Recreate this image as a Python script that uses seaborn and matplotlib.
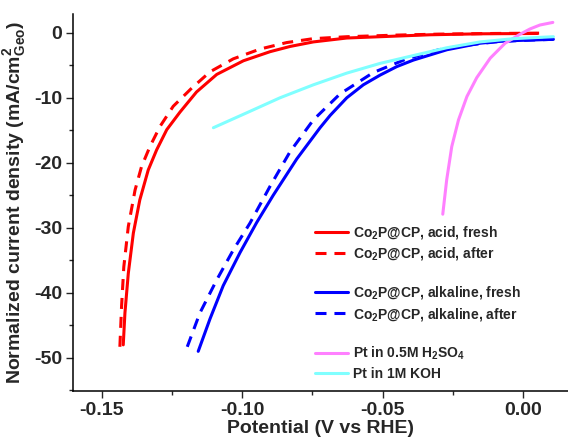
import numpy as np
import pandas as pd
import seaborn as sns
import matplotlib.pyplot as plt

# values (V vs RHE, mA/cm2)
acid_fresh_x = [-0.1424, -0.1418, -0.1406, -0.1388, -0.1365, -0.1335, -0.1305, -0.1269, -0.1222, -0.1163,
                -0.1091, -0.0996, -0.0901, -0.0830, -0.0747, -0.0628, -0.0450, -0.0331, -0.0150, 0.0050]
acid_fresh_y = [-48.0, -43.1, -37.0, -30.8, -25.7, -21.1, -18.0, -14.9, -12.2, -9.1,
                -6.4, -4.3, -2.9, -2.1, -1.4, -0.8, -0.5, -0.3, -0.15, -0.1]

acid_after_x = [-0.1436, -0.1430, -0.1422, -0.1406, -0.1382, -0.1359, -0.1329, -0.1293, -0.1246, -0.1180,
                -0.1115, -0.1032, -0.0937, -0.0842, -0.0748, -0.0628, -0.0450, -0.0300, -0.0100, 0.0065]
acid_after_y = [-48.3, -42.1, -36.0, -29.8, -24.2, -20.6, -17.5, -14.4, -11.3, -8.5,
                -6.0, -4.0, -2.5, -1.5, -0.9, -0.6, -0.35, -0.2, -0.1, -0.05]

alk_fresh_x = [-0.1157, -0.1115, -0.1068, -0.1008, -0.0949, -0.0890, -0.0830, -0.0806, -0.0723, -0.0687, -0.0628,
               -0.0569, -0.0509, -0.0450, -0.0391, -0.0331, -0.0271, -0.0212, -0.0153, -0.0093, -0.0034, 0.0108]
alk_fresh_y = [-49.0, -44.0, -38.9, -33.8, -29.2, -25.0, -21.0, -19.4, -14.6, -12.7, -10.0,
               -8.0, -6.5, -5.2, -4.2, -3.4, -2.6, -2.1, -1.6, -1.35, -1.2, -1.0]

alk_after_x = [-0.1196, -0.1151, -0.1091, -0.1032, -0.0973, -0.0901, -0.0830, -0.0747,
               -0.0652, -0.0533, -0.0414, -0.0300, -0.0200, -0.0100, 0.0000, 0.0108]
alk_after_y = [-48.3, -43.1, -38.0, -33.4, -29.3, -23.6, -18.3, -13.4,
               -9.4, -6.1, -4.0, -2.6, -1.9, -1.4, -1.15, -1.0]

pt_acid_x = [-0.0286, -0.0272, -0.0254, -0.0230, -0.0200, -0.0165, -0.0117, -0.0064, -0.0010,
             0.0025, 0.0060, 0.0106]
pt_acid_y = [-27.9, -22.6, -17.5, -13.4, -9.8, -6.9, -3.9, -1.6, -0.2, 0.6, 1.2, 1.6]

pt_koh_x = [-0.1103, -0.0984, -0.0866, -0.0747, -0.0628, -0.0509, -0.0391, -0.0272,
            -0.0153, -0.0034, 0.0108]
pt_koh_y = [-14.6, -12.3, -10.0, -8.0, -6.2, -4.7, -3.5, -2.3, -1.4, -0.9, -0.6]

x_ticks = [-0.15, -0.10, -0.05, 0.00]
y_ticks = [0, -10, -20, -30, -40, -50]

sns.set_style("ticks")
plt.rcParams['font.family'] = ['Liberation Sans', 'DejaVu Sans']
plt.rcParams['font.weight'] = 'bold'
plt.rcParams['axes.labelweight'] = 'bold'
plt.rcParams['axes.unicode_minus'] = False
plt.rcParams['mathtext.fontset'] = 'custom'
plt.rcParams['mathtext.rm'] = 'Liberation Sans:bold'
plt.rcParams['mathtext.it'] = 'Liberation Sans:bold'
plt.rcParams['mathtext.bf'] = 'Liberation Sans:bold'
plt.rcParams['mathtext.default'] = 'rm'

fig = plt.figure(figsize=(5.68, 4.42), dpi=100)
ax = fig.add_axes([0.1285, 0.1154, 0.8715, 0.8530])

series = [
    (acid_fresh_x, acid_fresh_y, '#ff0000', '-', r'Co$_2$P@CP, acid, fresh'),
    (acid_after_x, acid_after_y, '#ff0000', '--', r'Co$_2$P@CP, acid, after'),
    (alk_fresh_x, alk_fresh_y, '#0000ff', '-', r'Co$_2$P@CP, alkaline, fresh'),
    (alk_after_x, alk_after_y, '#0000ff', '--', r'Co$_2$P@CP, alkaline, after'),
    (pt_acid_x, pt_acid_y, '#ff80ff', '-', r'Pt in 0.5M H$_2$SO$_4$'),
    (pt_koh_x, pt_koh_y, '#80ffff', '-', 'Pt in 1M KOH'),
]

handles = []
for xs, ys, col, ls, lab in series:
    df = pd.DataFrame({'x': xs, 'y': ys})
    sns.lineplot(data=df, x='x', y='y', sort=False, estimator=None, color=col,
                 linewidth=2.2, ax=ax)
    line = ax.lines[-1]
    if ls == '--':
        line.set_dashes((3.6, 2.6))
    handles.append(line)

ax.set_xticks(x_ticks)
ax.set_xticklabels([f'{t:.2f}' for t in x_ticks])
ax.set_yticks(y_ticks)
ax.set_xticks([-0.125, -0.075, -0.025], minor=True)
ax.set_yticks([-55, -45, -35, -25, -15, -5], minor=True)
ax.set_xlim(-0.1603, 0.016)
ax.set_ylim(-55.1, 2.9)
ax.tick_params(axis='both', which='major', length=5, width=1, labelsize=14, direction='out', pad=3)
ax.tick_params(axis='both', which='minor', length=3, width=1, direction='out')
for lbl in ax.get_xticklabels() + ax.get_yticklabels():
    lbl.set_fontweight('bold')

sns.despine(ax=ax)
for s in ['left', 'bottom']:
    ax.spines[s].set_linewidth(1.1)
    ax.spines[s].set_color('black')

ax.set_xlabel('Potential (V vs RHE)', fontsize=14, fontweight='bold', labelpad=1)
ax.set_ylabel(r'Normalized current density (mA/cm$^2_{Geo}$)', fontsize=14,
              fontweight='bold', labelpad=4)

blank = plt.Line2D([], [], color='none')
labels = [s[4] for s in series]
hlist = [handles[0], handles[1], blank, handles[2], handles[3], blank, handles[4], handles[5]]
llist = [labels[0], labels[1], ' ', labels[2], labels[3], ' ', labels[4], labels[5]]
leg = ax.legend(hlist, llist, loc='upper left', bbox_to_anchor=(0.489, 0.443),
                frameon=False, fontsize=10, handlelength=2.4, handletextpad=0.3,
                labelspacing=0.3, borderaxespad=0, borderpad=0)
for t in leg.get_texts():
    t.set_fontweight('bold')

fig.savefig('out.png', dpi=100)
